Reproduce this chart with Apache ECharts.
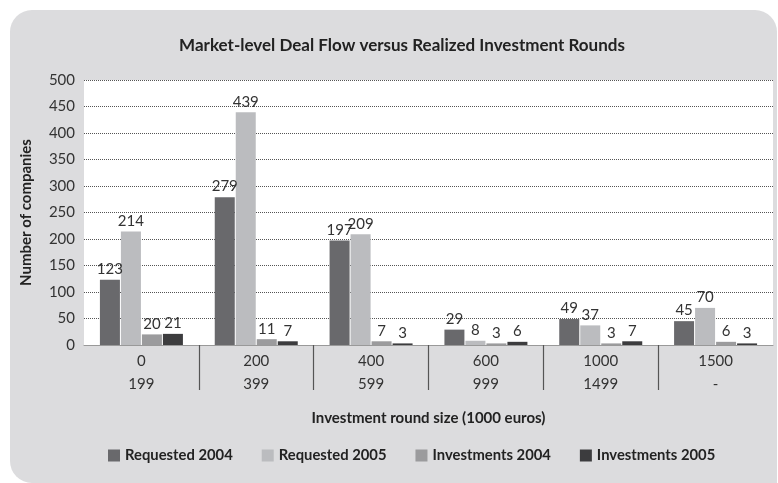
<!DOCTYPE html>
<html><head><meta charset="utf-8">
<script src="https://cdn.jsdelivr.net/npm/echarts@6/dist/echarts.min.js"></script>
<style>
html,body{margin:0;padding:0;background:#fff;}
#bg{position:absolute;left:10px;top:10px;width:767px;height:473px;background:#dcdcde;border-radius:22px 22px 0 22px;}
#chart{position:absolute;left:0;top:0;width:778px;height:483px;}
</style></head>
<body><div id="bg"></div><div id="chart"></div>
<script>
const categories = ['0\n199','200\n399','400\n599','600\n999','1000\n1499','1500\n-'];
const requested2004 = [123,279,197,29,49,45];
const requested2005 = [214,439,209,8,37,70];
const investments2004 = [20,11,7,3,3,6];
const investments2005 = [21,7,3,6,7,3];
const yTicks = [0,50,100,150,200,250,300,350,400,450,500];
const separators = [1,2,3,4,5];

const FONT = 'Lato';
const chart = echarts.init(document.getElementById('chart'));
function s(name, data, color){
  return {name, type:'bar', data, xAxisIndex:0, barWidth:20, barGap:'5%', barCategoryGap:'28%',
    itemStyle:{color},
    label:{show:true, position:'top', distance:3, color:'#333', fontFamily:FONT, fontSize:15}};
}
chart.setOption({
  backgroundColor:'transparent',
  title:{text:'Market-level Deal Flow versus Realized Investment Rounds', left:397, textAlign:'center', top:32,
    textStyle:{fontFamily:FONT, fontWeight:'bold', fontSize:17, color:'#222'}},
  grid:{left:84, right:5, top:80, bottom:138, show:true, backgroundColor:'#fff', borderWidth:0},
  legend:{bottom:15, left:103, itemWidth:12, itemHeight:12, itemGap:29, icon:'rect',
    textStyle:{fontFamily:FONT, fontWeight:'bold', fontSize:14.8, color:'#222'},
    data:['Requested 2004','Requested 2005','Investments 2004','Investments 2005']},
  xAxis:[{type:'category', data:categories,
    name:'Investment round size (1000 euros)', nameLocation:'middle', nameGap:66,
    nameTextStyle:{fontFamily:FONT, fontWeight:'bold', fontSize:15, color:'#222'},
    axisLine:{show:true, lineStyle:{color:'#999', width:1}},
    axisTick:{show:false},
    axisLabel:{fontFamily:FONT, fontSize:15, color:'#333', lineHeight:23, margin:5}},
   {type:'value', min:0, max:categories.length, position:'bottom', offset:0,
    axisLine:{show:false}, axisLabel:{show:false}, splitLine:{show:false},
    axisTick:{show:true, length:45, customValues:separators, lineStyle:{color:'#555', width:1.2}}}],
  yAxis:{type:'value', min:0, max:500, interval:50,
    name:'Number of companies', nameLocation:'middle', nameGap:50,
    nameTextStyle:{fontFamily:FONT, fontWeight:'bold', fontSize:15, color:'#222'},
    axisLine:{show:false}, axisTick:{show:false},
    axisLabel:{fontFamily:FONT, fontSize:15, color:'#333', margin:9},
    splitLine:{show:true, lineStyle:{color:'#555', type:[1,1], width:1}}},
  series:[
    s('Requested 2004', requested2004, '#69696c'),
    s('Requested 2005', requested2005, '#bbbcbf'),
    s('Investments 2004', investments2004, '#9b9b9d'),
    s('Investments 2005', investments2005, '#3c3c3e')
  ]
});
</script></body></html>
